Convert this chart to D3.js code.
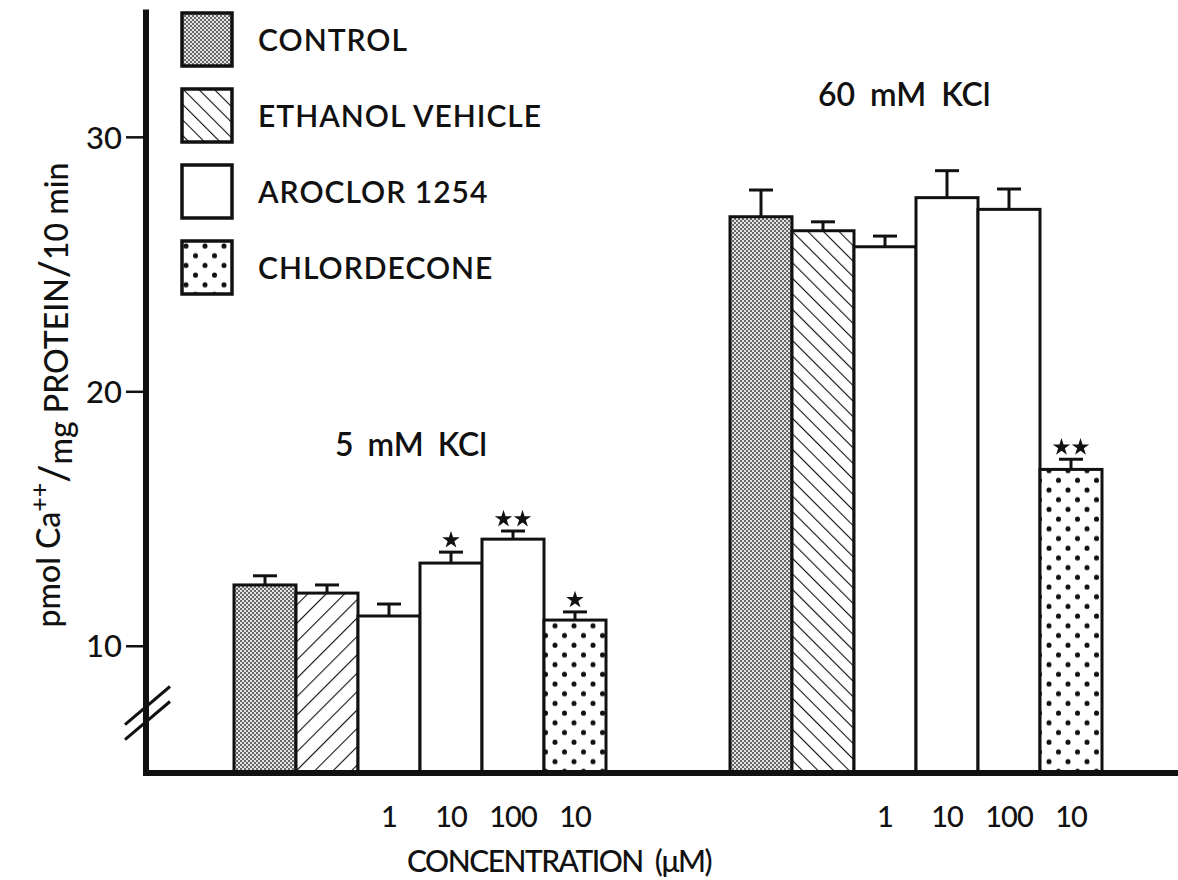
<!DOCTYPE html>
<html>
<head>
<meta charset="utf-8">
<script src="https://cdn.jsdelivr.net/npm/d3@7"></script>
<style>
  html, body { margin: 0; padding: 0; background: #fff; }
  svg { display: block; }
  text { font-family: Lato, "Noto Sans", sans-serif; fill: #111; }
</style>
</head>
<body>
<svg id="chart" width="1178" height="880"></svg>
<script>
// Ca++ uptake, pmol / mg protein / 10 min, at two KCl concentrations
const groups = ["5 mM KCl", "60 mM KCl"];
const treatments = ["control", "ethanol", "aroclor1", "aroclor10", "aroclor100", "chlordecone10"];
const fillKinds = ["control", "ethanol", "aroclor", "aroclor", "aroclor", "chlordecone"];
const doseLabels = ["", "", "1", "10", "100", "10"];
const means5 = [12.39, 12.07, 11.17, 13.25, 14.19, 11.01];
const errs5 = [0.36, 0.32, 0.47, 0.43, 0.32, 0.32];
const stars5 = [0, 0, 0, 1, 2, 1];
const means60 = [26.86, 26.31, 25.68, 27.61, 27.15, 16.93];
const errs60 = [1.05, 0.35, 0.42, 1.06, 0.80, 0.40];
const stars60 = [0, 0, 0, 0, 0, 2];
const yTicks = [10, 20, 30];
const legendLabels = ["CONTROL", "ETHANOL VEHICLE", "AROCLOR 1254", "CHLORDECONE"];
const legendKinds = ["control", "ethanol", "aroclor", "chlordecone"];

const svg = d3.select("#chart");
const defs = svg.append("defs");

// halftone grey
const ht = defs.append("pattern").attr("id", "fill-control")
  .attr("patternUnits", "userSpaceOnUse").attr("width", 4).attr("height", 4);
ht.append("rect").attr("width", 4).attr("height", 4).attr("fill", "#e4e4e4");
ht.append("rect").attr("x", 0).attr("y", 0).attr("width", 2).attr("height", 2).attr("fill", "#686868");
ht.append("rect").attr("x", 2).attr("y", 2).attr("width", 2).attr("height", 2).attr("fill", "#686868");

// hatching: "\" and "/"
function hatch(id, size, dir) {
  const p = defs.append("pattern").attr("id", id)
    .attr("patternUnits", "userSpaceOnUse").attr("width", size).attr("height", size)
    .attr("patternTransform", `rotate(${dir})`);
  p.append("rect").attr("width", size).attr("height", size).attr("fill", "#fff");
  p.append("line").attr("x1", 0).attr("y1", 0).attr("x2", 0).attr("y2", size)
    .attr("stroke", "#111").attr("stroke-width", 2.2);
}
hatch("fill-ethanol-back", 11, -45);
hatch("fill-ethanol-fwd", 13, 45);

// staggered dots
const dt = defs.append("pattern").attr("id", "fill-chlordecone")
  .attr("patternUnits", "userSpaceOnUse").attr("width", 19).attr("height", 19.4);
dt.append("rect").attr("width", 19).attr("height", 19.4).attr("fill", "#fff");
[[4, 5], [13.5, 14.7]].forEach(([cx, cy]) =>
  dt.append("circle").attr("cx", cx).attr("cy", cy).attr("r", 2.5).attr("fill", "#111"));

function fillFor(kind, gi) {
  if (kind === "control") return "url(#fill-control)";
  if (kind === "ethanol") return gi === 0 ? "url(#fill-ethanol-fwd)" : "url(#fill-ethanol-back)";
  if (kind === "chlordecone") return "url(#fill-chlordecone)";
  return "#fff";
}

const y = d3.scaleLinear().domain([5, 35]).range([773, 9.6]);
const xGroup = d3.scaleBand().domain(groups).range([234, 1102]).paddingInner(0.25).paddingOuter(0);
const xBar = d3.scaleBand().domain(treatments).range([0, xGroup.bandwidth()]).padding(0);

const data = [];
groups.forEach((g, gi) => {
  const means = gi === 0 ? means5 : means60;
  const errs = gi === 0 ? errs5 : errs60;
  const stars = gi === 0 ? stars5 : stars60;
  treatments.forEach((t, i) => data.push({
    g, gi, t, kind: fillKinds[i], dose: doseLabels[i],
    mean: means[i], err: errs[i], stars: stars[i]
  }));
});
const bx = d => xGroup(d.g) + xBar(d.t);
const cx = d => bx(d) + xBar.bandwidth() / 2;

// bars
svg.append("g").selectAll("rect").data(data).join("rect")
  .attr("x", bx)
  .attr("y", d => y(d.mean))
  .attr("width", xBar.bandwidth())
  .attr("height", d => y(5) - y(d.mean))
  .attr("fill", d => fillFor(d.kind, d.gi))
  .attr("stroke", "#111").attr("stroke-width", 3);

// error bars (upper only)
const eb = svg.append("g").attr("stroke", "#111").attr("stroke-width", 3);
eb.selectAll("line.stem").data(data).join("line").attr("class", "stem")
  .attr("x1", cx).attr("x2", cx)
  .attr("y1", d => y(d.mean)).attr("y2", d => y(d.mean + d.err));
eb.selectAll("line.cap").data(data).join("line").attr("class", "cap")
  .attr("x1", d => cx(d) - 12).attr("x2", d => cx(d) + 12)
  .attr("y1", d => y(d.mean + d.err)).attr("y2", d => y(d.mean + d.err));

// significance stars
const star = d3.symbol().type(d3.symbolStar).size(95);
const starData = [];
data.forEach(d => {
  for (let k = 0; k < d.stars; k++) {
    const off = d.stars === 1 ? 0 : (k === 0 ? -9.5 : 9.5);
    starData.push({ x: cx(d) + off, y: y(d.mean + d.err) - 13 });
  }
});
svg.append("g").selectAll("path").data(starData).join("path")
  .attr("d", star).attr("fill", "#111")
  .attr("transform", d => `translate(${d.x},${d.y + 1})`);

// y axis
const yAxis = svg.append("g").attr("transform", "translate(146,0)")
  .call(d3.axisLeft(y).tickValues(yTicks).tickSize(20).tickSizeOuter(0).tickPadding(4));
yAxis.select(".domain").attr("stroke", "#111").attr("stroke-width", 6)
  .attr("d", `M0,${y(35)}V${y(5) + 3}`);
yAxis.selectAll(".tick line").attr("stroke", "#111").attr("stroke-width", 2.5);
yAxis.selectAll(".tick text").style("font-size", "31px").style("font-family", "Lato, sans-serif")
  .style("font-weight", 500).attr("fill", "#111").attr("dy", "0.36em");

// x axis baseline
svg.append("line").attr("x1", 143).attr("x2", 1178).attr("y1", y(5)).attr("y2", y(5))
  .attr("stroke", "#111").attr("stroke-width", 6);

// axis break marks
const brk = svg.append("g").attr("stroke", "#111").attr("stroke-width", 3);
[0, 15].forEach(o => brk.append("line")
  .attr("x1", 125).attr("y1", y(6.9) + o).attr("x2", 170).attr("y2", y(8.4) + o));

// dose labels
svg.append("g").selectAll("text").data(data.filter(d => d.dose)).join("text")
  .attr("x", cx).attr("y", 827).attr("text-anchor", "middle")
  .style("font-size", "29px").style("font-weight", 500).style("letter-spacing", "-1px")
  .text(d => d.dose);

svg.append("text").attr("x", 559).attr("y", 872).attr("text-anchor", "middle")
  .style("font-size", "30px").style("font-weight", 500)
  .style("letter-spacing", "-1.5px").style("word-spacing", "6px")
  .text("CONCENTRATION (\u03bcM)");

// group titles
svg.append("text").attr("x", 335).attr("y", 456)
  .style("font-size", "32px").style("font-weight", 600).style("word-spacing", "6px")
  .text("5 mM KCl");
svg.append("text").attr("x", 818).attr("y", 106)
  .style("font-size", "32px").style("font-weight", 600).style("word-spacing", "7px")
  .text("60 mM KCl");

// y axis title
const yt = svg.append("text").attr("transform", "translate(60,395) rotate(-90)")
  .attr("text-anchor", "middle").style("font-size", "32px").style("font-weight", 500);
yt.append("tspan").text("pmol Ca");
yt.append("tspan").attr("dy", "-0.5em").style("font-size", "25px").text("++");
yt.append("tspan").attr("dy", "0.5em").style("font-size", "40px").text("/");
yt.append("tspan").attr("dy", "0.15em").text("mg");
yt.append("tspan").attr("dy", "-0.15em").text(" PROTEIN");
yt.append("tspan").style("font-size", "40px").text("/");
yt.append("tspan").text("10 min");

// legend
const lg = svg.append("g").selectAll("g").data(legendLabels).join("g")
  .attr("transform", (d, i) => `translate(182,${13 + i * 76})`);
lg.append("rect").attr("width", 50).attr("height", 53)
  .attr("fill", (d, i) => fillFor(legendKinds[i], 1))
  .attr("stroke", "#111").attr("stroke-width", 3.5);
lg.append("text").attr("x", 76).attr("y", 38)
  .style("font-size", "30px").style("font-weight", 600).style("letter-spacing", "1px")
  .text(d => d);
</script>
</body>
</html>
